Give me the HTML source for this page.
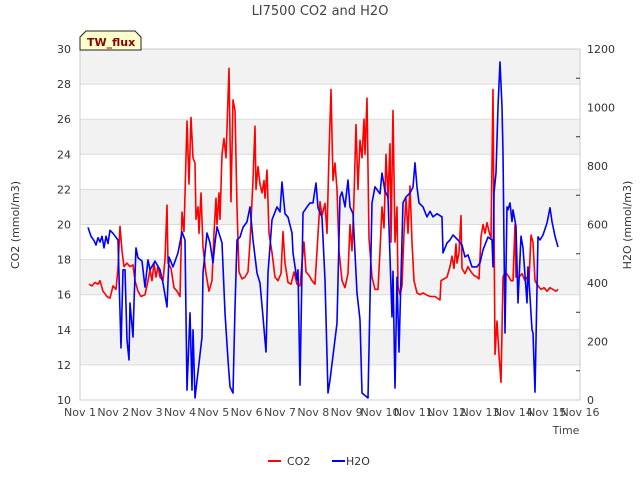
<!DOCTYPE html>
<html><head><meta charset="utf-8"><style>
body{margin:0;background:#fff;font-family:"Liberation Sans",sans-serif}
svg text{font-family:"DejaVu Sans","Liberation Sans",sans-serif}
</style></head><body>
<svg id="chart" width="640" height="480" viewBox="0 0 640 480">
<text x="320" y="15" text-anchor="middle" font-size="13" fill="#444">LI7500 CO2 and H2O</text>
<g id="bands"></g><g id="grid"></g>
<rect x="80" y="49" width="500" height="351" fill="none" stroke="#ccc"/>
<g id="axes"></g><g id="series"></g>
<path d="M80,50 L80,37 L86,31 L135,31 L141,37 L141,50 Z" fill="#ffffcc" stroke="#222"/>
<text x="87" y="46" font-size="11" font-weight="bold" fill="#8b0000">TW_flux</text>
<text x="566" y="434" text-anchor="middle" font-size="11" fill="#444">Time</text>
<text transform="translate(19,225) rotate(-90)" text-anchor="middle" font-size="11" fill="#333">CO2 (mmol/m3)</text>
<text transform="translate(631,225) rotate(-90)" text-anchor="middle" font-size="11" fill="#333">H2O (mmol/m3)</text>
<g><line x1="268" y1="461" x2="281" y2="461" stroke="#f00" stroke-width="2"/><text x="287" y="465" font-size="11" fill="#333">CO2</text></g>
<g><line x1="332" y1="461" x2="345" y2="461" stroke="#00f" stroke-width="2"/><text x="346" y="465" font-size="11" fill="#333">H2O</text></g>
</svg>
<script>
const xTickLabels=["Nov 1","Nov 2","Nov 3","Nov 4","Nov 5","Nov 6","Nov 7","Nov 8","Nov 9","Nov 10","Nov 11","Nov 12","Nov 13","Nov 14","Nov 15","Nov 16"];
const co2Ticks=[10,12,14,16,18,20,22,24,26,28,30];
const h2oTicks=[0,200,400,600,800,1000,1200];
const co2Time=[0.27,0.36,0.45,0.54,0.60,0.69,0.81,0.90,0.99,1.08,1.14,1.20,1.26,1.32,1.41,1.50,1.59,1.65,1.74,1.83,1.95,2.04,2.10,2.16,2.22,2.28,2.34,2.40,2.49,2.55,2.61,2.64,2.73,2.82,2.91,3.00,3.06,3.12,3.21,3.27,3.33,3.39,3.45,3.48,3.54,3.57,3.63,3.69,3.78,3.87,3.96,4.02,4.08,4.11,4.17,4.20,4.26,4.32,4.38,4.47,4.53,4.59,4.65,4.71,4.77,4.86,4.95,5.04,5.10,5.19,5.25,5.28,5.34,5.40,5.46,5.52,5.55,5.61,5.67,5.76,5.85,5.94,6.03,6.09,6.15,6.24,6.33,6.42,6.51,6.60,6.66,6.72,6.78,6.87,6.96,7.05,7.11,7.20,7.26,7.35,7.41,7.47,7.53,7.59,7.65,7.71,7.77,7.86,7.95,8.04,8.10,8.16,8.22,8.28,8.34,8.40,8.46,8.52,8.55,8.61,8.67,8.76,8.85,8.94,9.00,9.06,9.12,9.18,9.24,9.30,9.33,9.39,9.45,9.51,9.54,9.60,9.66,9.72,9.78,9.84,9.90,9.96,10.02,10.11,10.20,10.29,10.38,10.50,10.65,10.80,10.83,10.92,11.01,11.10,11.16,11.22,11.28,11.31,11.37,11.43,11.46,11.55,11.64,11.73,11.82,11.91,11.97,12.03,12.09,12.15,12.21,12.27,12.33,12.39,12.45,12.51,12.57,12.63,12.69,12.75,12.84,12.93,12.99,13.05,13.08,13.17,13.26,13.35,13.41,13.47,13.53,13.59,13.65,13.74,13.83,13.92,14.01,14.10,14.19,14.28,14.34];
const co2Values=[16.6,16.5,16.7,16.6,16.8,16.2,15.9,15.8,16.5,16.3,17.5,19.9,18.5,17.6,17.8,17.6,17.7,16.8,16.2,15.9,16.0,16.8,17.4,16.8,17.8,17.0,17.6,17.0,16.8,18.0,21.1,17.8,17.5,16.4,16.2,15.9,20.7,19.6,25.9,22.3,26.1,23.8,23.5,20.3,21.0,19.5,21.8,18.7,17.2,16.2,16.8,19.5,21.5,20.0,21.8,20.3,24.0,24.9,23.8,28.9,21.3,27.1,26.5,21.0,17.3,16.9,17.0,17.3,19.0,22.5,25.6,22.0,23.3,22.3,21.8,22.5,21.5,23.1,19.5,18.4,17.0,16.8,17.2,19.6,17.8,16.7,16.6,17.3,16.6,16.5,17.8,19.0,17.3,17.1,16.8,16.6,18.5,21.3,20.5,21.2,19.5,24.0,27.7,22.5,23.5,22.0,18.5,16.8,16.4,17.2,20.0,18.5,21.5,25.7,22.0,24.8,23.8,26.0,24.0,27.2,19.2,17.0,16.3,16.3,18.5,21.0,19.8,24.0,21.5,24.6,19.0,26.5,19.0,21.0,16.5,16.0,16.5,19.5,21.5,19.5,22.2,19.0,16.8,16.1,16.0,16.1,16.0,15.9,15.9,15.7,16.8,16.9,17.0,17.6,18.2,17.5,18.9,17.8,18.4,20.5,17.5,17.2,17.6,17.3,17.1,17.0,16.9,19.3,20.0,19.5,20.1,19.6,19.2,27.7,12.6,14.5,12.6,11.0,17.0,17.3,17.1,16.8,16.8,20.0,17.0,17.0,17.2,16.8,17.0,16.8,19.4,19.0,16.8,16.5,16.3,16.4,16.2,16.4,16.3,16.2,16.3];
const h2oTime=[0.24,0.33,0.42,0.48,0.54,0.60,0.66,0.72,0.78,0.84,0.90,0.99,1.14,1.23,1.29,1.35,1.41,1.47,1.50,1.59,1.62,1.68,1.74,1.86,1.95,2.04,2.10,2.25,2.40,2.49,2.61,2.67,2.79,2.94,3.06,3.15,3.21,3.30,3.36,3.39,3.45,3.66,3.69,3.81,3.90,3.99,4.05,4.11,4.26,4.35,4.44,4.50,4.59,4.65,4.71,4.80,4.89,5.01,5.10,5.19,5.31,5.40,5.49,5.58,5.64,5.76,5.91,6.00,6.06,6.15,6.24,6.36,6.39,6.51,6.54,6.60,6.69,6.81,6.90,6.99,7.08,7.14,7.26,7.35,7.44,7.50,7.71,7.80,7.86,7.95,8.04,8.10,8.19,8.31,8.40,8.46,8.64,8.76,8.85,9.00,9.06,9.15,9.24,9.36,9.39,9.45,9.51,9.57,9.69,9.78,9.90,9.99,10.05,10.11,10.17,10.29,10.41,10.50,10.59,10.71,10.86,10.89,11.01,11.10,11.19,11.34,11.46,11.55,11.64,11.76,11.91,12.00,12.09,12.24,12.36,12.39,12.42,12.48,12.54,12.60,12.66,12.69,12.75,12.81,12.84,12.90,12.96,12.99,13.08,13.14,13.23,13.29,13.41,13.44,13.50,13.56,13.59,13.65,13.74,13.80,13.89,14.01,14.10,14.16,14.25,14.34];
const h2oValues=[590,560,545,530,555,540,560,520,560,535,580,570,547,178,445,445,205,137,332,215,332,520,486,475,386,479,445,475,445,400,318,489,455,503,575,547,34,298,34,240,7,215,434,571,537,469,537,592,537,298,137,45,24,315,547,557,590,609,660,547,434,400,284,164,434,616,660,643,745,637,625,571,503,410,445,51,640,660,674,674,742,657,625,410,24,68,263,694,711,660,752,660,637,366,274,24,7,674,729,705,776,714,694,284,440,41,420,164,674,694,708,728,811,728,674,660,626,645,626,637,626,503,537,547,564,547,530,489,496,455,455,469,513,557,547,455,708,776,1002,1156,1002,845,229,660,650,674,610,650,593,332,560,520,332,455,353,240,229,27,558,547,564,605,657,610,560,523];
const NS='http://www.w3.org/2000/svg';
const L=80,R=580,T=49,B=400;
const xS=d=>L+d*(R-L)/15;
const yC=v=>B-(v-10)*(B-T)/20;
const yH=v=>B-v*(B-T)/1200;
function mk(tag,attrs,parent){const e=document.createElementNS(NS,tag);for(const k in attrs)e.setAttribute(k,attrs[k]);parent.appendChild(e);return e;}
const bands=document.getElementById('bands'),grid=document.getElementById('grid'),axes=document.getElementById('axes'),series=document.getElementById('series');
for(let i=0;i<co2Ticks.length-1;i++){
  if((co2Ticks.length-2-i)%2===0){
    const r=mk('rect',{x:L,y:yC(co2Ticks[i+1]),width:R-L,height:yC(co2Ticks[i])-yC(co2Ticks[i+1]),fill:'#f2f2f2'},bands);
    
    
  }
}
co2Ticks.forEach(v=>{
  const g=mk('line',{x1:L,x2:R,y1:yC(v),y2:yC(v),stroke:'#dcdcdc'},grid);
  
  
  const t=mk('text',{x:L-9,y:yC(v)+4,'text-anchor':'end','font-size':11,fill:'#333'},axes);
  t.textContent=v;
  
  
});
for(let v=100;v<1200;v+=200){
  const m=mk('line',{x1:R-4,x2:R,y1:yH(v),y2:yH(v),stroke:'#333'},axes);
  
  
}
h2oTicks.forEach(v=>{
  const t=mk('text',{x:R+7,y:yH(v)+4,'font-size':11,fill:'#333'},axes);
  t.textContent=v;
  
  
});
xTickLabels.forEach((s,i)=>{
  const t=mk('text',{x:xS(i),y:416,'text-anchor':'middle','font-size':11,fill:'#444'},axes);
  t.textContent=s;
  
  
});
const pc=co2Time.map((d,i)=>xS(d).toFixed(1)+','+yC(co2Values[i]).toFixed(1)).join(' ');
const lc=mk('polyline',{points:pc,fill:'none',stroke:'#f00','stroke-width':1.6,'stroke-linejoin':'round'},series);


const ph=h2oTime.map((d,i)=>xS(d).toFixed(1)+','+yH(h2oValues[i]).toFixed(1)).join(' ');
const lh=mk('polyline',{points:ph,fill:'none',stroke:'#00f','stroke-width':1.6,'stroke-linejoin':'round'},series);


</script>
</body></html>
